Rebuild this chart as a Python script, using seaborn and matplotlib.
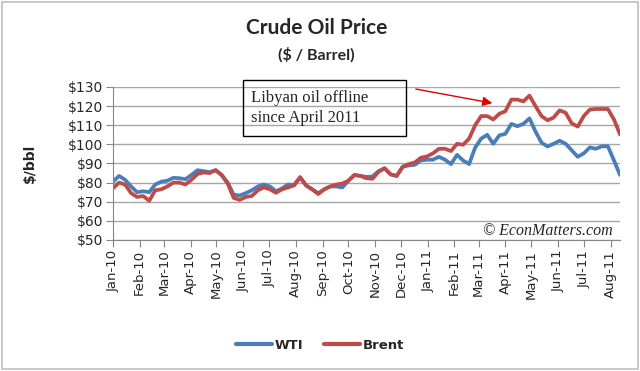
import pandas as pd
import numpy as np
import matplotlib
matplotlib.use('Agg')
import matplotlib.pyplot as plt
import matplotlib.dates as mdates
import seaborn as sns
from matplotlib.patches import Rectangle

# Weekly prices ($/bbl)
week_start = '2010-01-01'
n_weeks = 85

wti = [80.5, 83.5, 81.5, 78, 75, 75.5, 75, 79, 80.5, 81,
       82.5, 82.3, 81.8, 84, 86.5, 86, 85.5, 86.5, 84, 80,
       73.7, 73.3, 74.5, 76, 78, 79, 78, 75.5, 77, 79,
       78.8, 82.8, 78.5, 76.5, 74.5, 76.5, 78, 78, 77.5, 81,
       84, 83.5, 83, 83.2, 86, 87.5, 84.3, 83.5, 88.3, 89,
       89.3, 91.6, 92, 92, 93.5, 92, 89.7, 94.5, 91.6, 89.7,
       98.3, 103, 105, 100.3, 104.7, 105.5, 110.7, 109.5, 110.7, 113.6,
       106.7, 100.9, 98.9, 100.3, 101.9, 100.3, 96.9, 93.5, 95.3, 98.4,
       97.7, 99, 99, 91.6, 84]

brent = [77, 80, 79, 74.5, 72.5, 73, 70.5, 76, 76.5, 78,
         80, 80, 79, 81.5, 84.5, 85.3, 85, 86.5, 84, 79.5,
         72, 71, 72.5, 73, 76, 77.5, 76.5, 74.7, 76.5, 77.5,
         78.5, 82.8, 78.5, 76.5, 74, 76.5, 78, 79, 79.5, 81,
         84, 83.5, 82.3, 82, 85.7, 87.5, 84.3, 83.5, 88.3, 89.7,
         90.5, 93, 93.7, 95.3, 97.7, 97.7, 96.5, 100.3, 99.8, 103,
         110, 114.8, 114.8, 113, 116, 117.3, 123.4, 123.4, 122.5, 125.5,
         120, 114.8, 112.6, 114, 117.8, 116.5, 111, 109.3, 114.8, 118.2,
         118.5, 118.5, 118.5, 113, 105.2]

series_names = ['WTI', 'Brent']
colors = ['#4A7EBB', '#BE4B48']
y_ticks = [50, 60, 70, 80, 90, 100, 110, 120, 130]

dates = pd.date_range(week_start, periods=n_weeks, freq='7D')
df = pd.concat([
    pd.DataFrame({'date': dates, 'price': wti, 'series': 'WTI'}),
    pd.DataFrame({'date': dates, 'price': brent, 'series': 'Brent'}),
])

sns.set_style('white')
plt.rcParams['font.family'] = ['DejaVu Sans']

fig = plt.figure(figsize=(6.4, 3.71), dpi=100)
ax = fig.add_axes([113 / 640, 1 - 240 / 371, (620 - 113) / 640, (240 - 87) / 371])

sns.lineplot(data=df, x='date', y='price', hue='series', hue_order=series_names,
             palette=colors, linewidth=2.7, ax=ax, legend=False)

ax.set_xlim(pd.Timestamp('2010-01-01'), pd.Timestamp('2011-08-12'))
ax.set_ylim(50, 130)
ax.set_yticks(y_ticks)
ax.set_yticklabels([f'${v}' for v in y_ticks], fontsize=10)
ax.xaxis.set_major_locator(mdates.MonthLocator())
ax.xaxis.set_major_formatter(mdates.DateFormatter('%b-%y'))
plt.setp(ax.get_xticklabels(), rotation=90, fontsize=9.5)
ax.set_xlabel('')
ax.set_ylabel('$/bbl', fontsize=10, fontweight='bold', labelpad=22)

ax.grid(axis='y', color='#A6A6A6', linewidth=1)
ax.grid(axis='x', visible=False)
sns.despine(ax=ax, top=True, right=True)
for side in ['left', 'bottom']:
    ax.spines[side].set_color('#868686')
ax.tick_params(axis='both', which='both', length=5, color='#868686',
               direction='out', left=True, bottom=True, pad=2)

# titles
fig.text(0.495, 0.925, 'Crude Oil Price', ha='center', va='center', fontsize=15,
         fontweight='bold', family=['Lato', 'DejaVu Sans'])
fig.text(0.495, 0.852, '($ / Barrel)', ha='center', va='center', fontsize=11.5,
         fontweight='bold', family=['Lato', 'DejaVu Sans'])

# annotation box and arrow
ax.annotate('', xy=(pd.Timestamp('2011-03-20'), 121.3),
            xytext=(pd.Timestamp('2010-12-15'), 129.2),
            arrowprops=dict(arrowstyle='-|>', color='#E00000', lw=1,
                            mutation_scale=14))
fig.patches.append(Rectangle((243 / 640, 1 - 136 / 371), 163 / 640, 56 / 371,
                             transform=fig.transFigure, fill=False,
                             edgecolor='black', linewidth=1))
fig.text(251 / 640, 1 - 108 / 371, 'Libyan oil offline\nsince April 2011',
         ha='left', va='center', fontsize=12, linespacing=1.3,
         family=['Liberation Serif', 'DejaVu Serif'])

ax.text(0.985, 0.06, '\u00a9 EconMatters.com', transform=ax.transAxes,
        ha='right', va='center', fontsize=11.5, style='italic',
        family=['Liberation Serif', 'DejaVu Serif'])

# legend
handles = [plt.Line2D([], [], color=c, linewidth=3) for c in colors]
fig.legend(handles, series_names, loc='center', bbox_to_anchor=(0.5, 0.07),
           ncol=2, frameon=False, handlelength=2.8, columnspacing=1.5,
           handletextpad=0.2, prop={'weight': 'bold', 'size': 9.5})

# outer chart border
fig.patches.append(Rectangle((0.003, 0.005), 0.994, 0.99, transform=fig.transFigure,
                             fill=False, edgecolor='#BFBFBF', linewidth=1.2))

fig.savefig('out.png', dpi=100)
